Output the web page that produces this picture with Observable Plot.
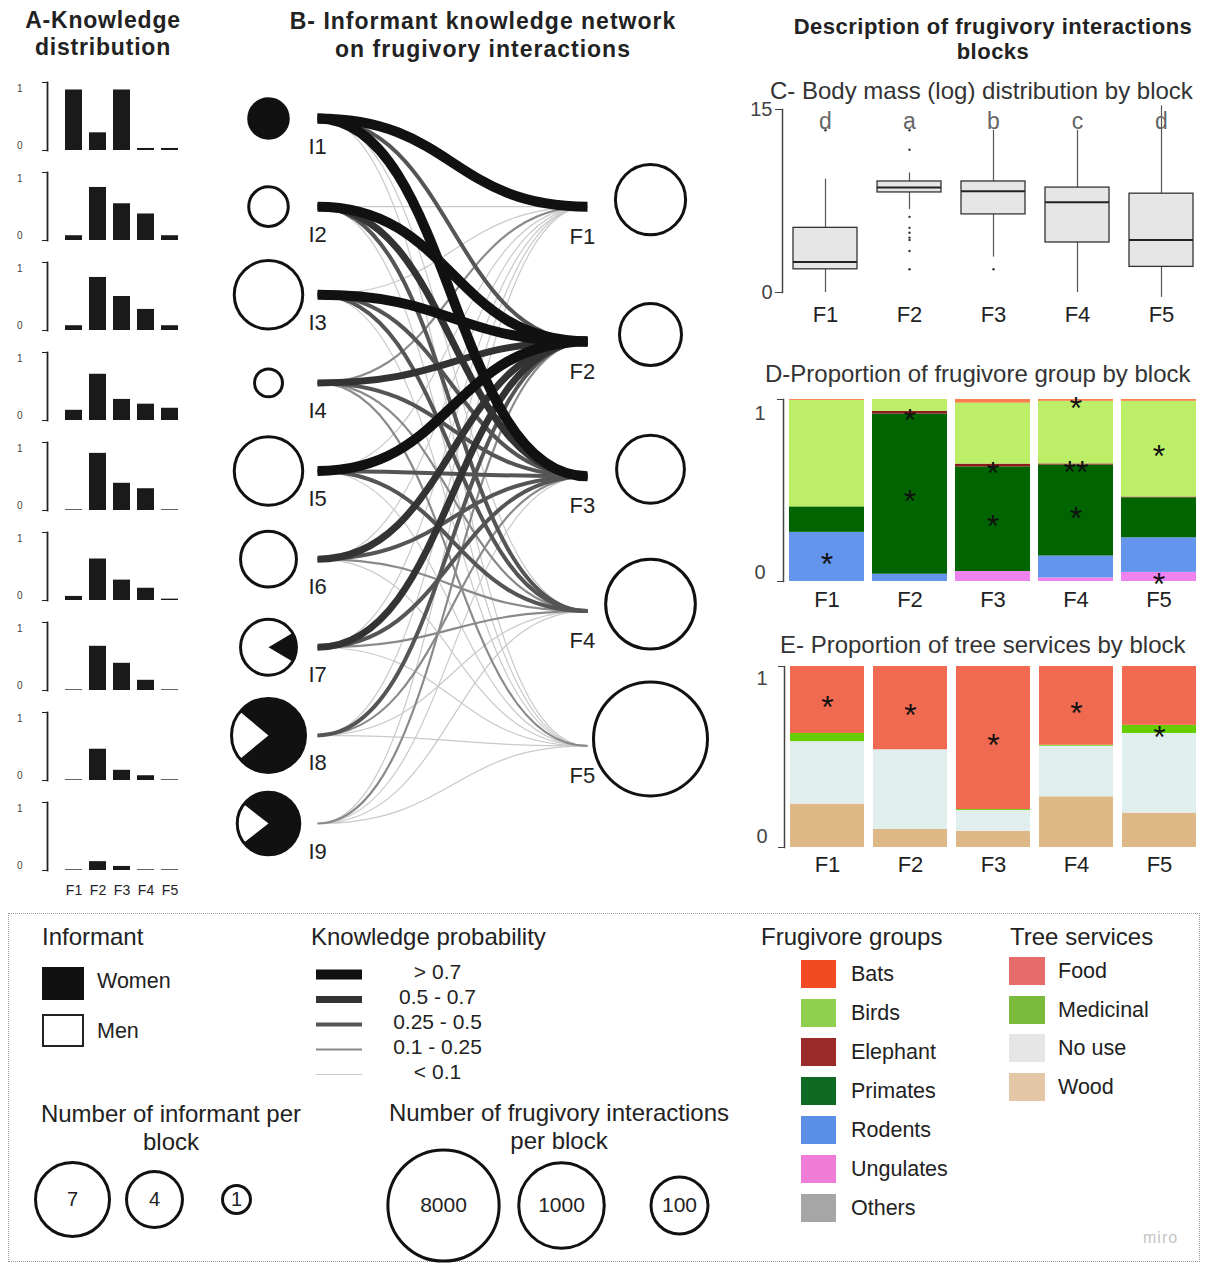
<!DOCTYPE html>
<html><head><meta charset="utf-8">
<script src="https://cdn.jsdelivr.net/npm/d3@7"></script>
<script src="https://cdn.jsdelivr.net/npm/@observablehq/plot@0.6"></script>
<style>
html,body{margin:0;padding:0;background:#fff;}
#root{position:relative;width:1205px;height:1264px;overflow:hidden;background:#fff;font-family:"Liberation Sans",Arial,Helvetica,sans-serif;color:#222;}
#root svg{overflow:visible;}
</style></head><body><div id="root"></div>
<script>
const FONT = '"Liberation Sans", Arial, Helvetica, sans-serif';
// ---------------- data ----------------
const blocks = ["F1", "F2", "F3", "F4", "F5"];
const informants = ["I1", "I2", "I3", "I4", "I5", "I6", "I7", "I8", "I9"];
// knowledge probability of each informant for each block (F1..F5)
const knowI1 = [0.89, 0.26, 0.89, 0.03, 0.03];
const knowI2 = [0.07, 0.78, 0.54, 0.39, 0.07];
const knowI3 = [0.07, 0.78, 0.50, 0.31, 0.07];
const knowI4 = [0.15, 0.68, 0.31, 0.24, 0.18];
const knowI5 = [0.01, 0.84, 0.40, 0.32, 0.01];
const knowI6 = [0.06, 0.61, 0.30, 0.18, 0.02];
const knowI7 = [0.01, 0.65, 0.40, 0.15, 0.01];
const knowI8 = [0.01, 0.46, 0.15, 0.07, 0.01];
const knowI9 = [0.01, 0.13, 0.06, 0.01, 0.01];
const knowledge = [knowI1, knowI2, knowI3, knowI4, knowI5, knowI6, knowI7, knowI8, knowI9];
const informantCount = [2, 2, 6, 1, 6, 4, 4, 7, 5];
const womenShare = [1, 0, 0, 0, 0, 0, 0.17, 0.78, 0.79];
const blockInteractions = [290, 150, 240, 1400, 10000];

const probLabels = ["> 0.7", "0.5 - 0.7", "0.25 - 0.5", "0.1 - 0.25", "< 0.1"];
const probBreaks = [0.7, 0.5, 0.25, 0.1, -Infinity];

// C - body mass (log) boxplots
const boxLo = [0, 6.8, 2.9, 0, -0.4];
const boxQ1 = [1.9, 8.2, 6.4, 4.1, 2.1];
const boxMed = [2.5, 8.6, 8.3, 7.4, 4.3];
const boxQ3 = [5.3, 9.1, 9.1, 8.6, 8.1];
const boxHi = [9.3, 9.8, 13.3, 13.3, 15.3];
const boxLetters = ["d", "a", "b", "c", "d"];
const outlierBlock = ["F1", "F2", "F2", "F2", "F2", "F2", "F2", "F2", "F2", "F2", "F3"];
const outlierMass = [13.3, 13.3, 11.7, 6.2, 5.3, 4.9, 4.5, 4.3, 3.4, 1.9, 1.9];

// D - frugivore groups (bottom to top)
const frugGroups = ["Ungulates", "Rodents", "Primates", "Elephant", "Birds", "Bats"];
const ungulates = [0.00, 0.00, 0.055, 0.02, 0.05];
const rodents = [0.27, 0.04, 0.00, 0.12, 0.19];
const primates = [0.14, 0.88, 0.575, 0.50, 0.22];
const elephant = [0.00, 0.015, 0.015, 0.006, 0.004];
const birds = [0.585, 0.065, 0.335, 0.344, 0.526];
const bats = [0.005, 0.00, 0.02, 0.01, 0.01];
const frugShares = [ungulates, rodents, primates, elephant, birds, bats];
const frugStars = [["F1", "Rodents", "*"], ["F2", "Elephant", "*"], ["F2", "Primates", "*"], ["F3", "Elephant", "*"], ["F3", "Primates", "*"], ["F4", "Bats", "*"], ["F4", "Elephant", "**"], ["F4", "Primates", "*"], ["F5", "Birds", "*"], ["F5", "Ungulates", "*"]];

// E - tree services (bottom to top)
const services = ["Wood", "No use", "Medicinal", "Food"];
const wood = [0.24, 0.10, 0.09, 0.28, 0.19];
const noUse = [0.345, 0.44, 0.115, 0.28, 0.44];
const medicinal = [0.045, 0.00, 0.005, 0.005, 0.045];
const food = [0.37, 0.46, 0.79, 0.435, 0.325];
const serviceShares = [wood, noUse, medicinal, food];
const serviceStars = [["F1", "Food", "*"], ["F2", "Food", "*"], ["F3", "Food", "*"], ["F4", "Food", "*"], ["F5", "Medicinal", "*"]];

// legends
const informantLegend = ["7", "4", "1"];
const interactionLegend = ["8000", "1000", "100"];
const frugLegend = ["Bats", "Birds", "Elephant", "Primates", "Rodents", "Ungulates", "Others"];
const serviceLegend = ["Food", "Medicinal", "No use", "Wood"];

// ---------------- styles ----------------
const probWidths = [10, 7, 4, 2.2, 1.2];
const probColors = ["#111", "#333", "#555", "#8a8a8a", "#c9c9c9"];
const frugBarColors = ["#ee82ee", "#6495ed", "#006400", "#8b1a1a", "#bcee68", "#fa7f4a"];
const serviceBarColors = ["#deb887", "#e0eeee", "#66cd00", "#ef6a50"];
const frugLegendColors = ["#f24a22", "#8fd14f", "#9b2b2b", "#0f6b23", "#5b8fe6", "#ef7cd6", "#a6a6a6"];
const serviceLegendColors = ["#e66c6c", "#7bbb3b", "#e6e6e6", "#e3c7a6"];
const infR = {type: "sqrt", domain: [0, 7], range: [0, 37]};
const blockR = {type: "log", domain: [1, 10000], range: [0, 57]};
const baseStyle = {fontFamily: FONT, fontSize: "20px", color: "#222", background: "transparent", overflow: "visible"};

// ---------------- helpers ----------------
const root = document.getElementById("root");
function place(node, left, top) {
  const w = document.createElement("div");
  w.style.cssText = `position:absolute;left:${left}px;top:${top}px;`;
  w.appendChild(node); root.appendChild(w); return w;
}
function txt(html, left, top, css) {
  const d = document.createElement("div");
  d.innerHTML = html;
  d.style.cssText = `position:absolute;left:${left}px;top:${top}px;white-space:nowrap;${css || ""}`;
  root.appendChild(d); return d;
}
function level(p) { return probBreaks.findIndex(b => p > b); }
function wedge(share) {
  return {
    draw(ctx, size) {
      const r = Math.sqrt(size / Math.PI);
      if (share >= 1) { ctx.moveTo(r, 0); ctx.arc(0, 0, r, 0, 2 * Math.PI); ctx.closePath(); return; }
      const a = Math.PI * share;
      ctx.moveTo(0, 0); ctx.arc(0, 0, r, -a, a); ctx.closePath();
    }
  };
}

// ---------------- titles ----------------
txt("A-Knowledge<br>distribution", 0, 7, "width:206px;text-align:center;font-weight:bold;font-size:23px;line-height:27px;letter-spacing:0.8px;");
txt("B- Informant knowledge network<br>on frugivory interactions", 283, 7, "width:400px;text-align:center;font-weight:bold;font-size:23px;line-height:28px;letter-spacing:1px;");
txt("Description of frugivory interactions<br>blocks", 793, 14, "width:400px;text-align:center;font-weight:bold;font-size:22px;line-height:25px;letter-spacing:0.5px;");
txt("C- Body mass (log) distribution by block", 770, 77, "font-size:24px;line-height:28px;color:#333;");
txt("D-Proportion of frugivore group by block", 765, 360, "font-size:24px;line-height:28px;color:#333;");
txt("E- Proportion of tree services by block", 780, 631, "font-size:24px;line-height:28px;color:#333;");

// ---------------- A ----------------
const aData = informants.flatMap((inf, i) => blocks.map((b, j) => ({informant: inf, block: b, value: knowledge[i][j]})));
place(Plot.plot({
  width: 206, height: 892, marginTop: 19, marginBottom: 40, marginLeft: 47, marginRight: 10,
  style: baseStyle,
  x: {domain: blocks, paddingInner: 0.3, paddingOuter: 0.75, label: null},
  y: {domain: [0, 1], label: null},
  fy: {domain: informants, paddingInner: 0.245, paddingOuter: 0.245, axis: null, label: null},
  marks: [
    Plot.frame({anchor: "left", stroke: "#222", strokeWidth: 1.8}),
    Plot.axisY({ticks: [0, 1], tickSize: 5, tickFormat: () => "", label: null, stroke: "#222"}),
    Plot.text([1], {y: d => d, text: d => String(d), frameAnchor: "left", textAnchor: "end", dx: -25, dy: 6, fontSize: 10, fill: "#444"}),
    Plot.text([0], {y: d => d, text: d => String(d), frameAnchor: "left", textAnchor: "end", dx: -25, dy: -5, fontSize: 10, fill: "#444"}),
    Plot.axisX({tickSize: 0, tickPadding: 15, fontSize: 14, label: null}),
    Plot.barY(aData, {x: "block", y: "value", fy: "informant", fill: "#1a1a1a"})
  ]
}), 0, 40);

// ---------------- B ----------------
const blockSlot = j => 1 + 1.53 * j;
const infData = informants.map((name, i) => ({name, idx: i, count: informantCount[i], women: womenShare[i]}));
const blockData = blocks.map((name, j) => ({name, pos: blockSlot(j), n: blockInteractions[j]}));
const links = informants.flatMap((inf, i) => blocks.map((b, j) => ({i, pos: blockSlot(j), p: knowledge[i][j]})))
  .sort((a, b) => a.p - b.p);
const netDims = {width: 480, height: 830, marginLeft: 87, marginRight: 123, marginTop: 48, marginBottom: 77};
place(Plot.plot({
  ...netDims, style: baseStyle,
  x: {domain: [0, 1], axis: null}, y: {domain: [0, 8], reverse: true, axis: null},
  r: infR,
  marks: [
    Plot.link(links, {x1: 0, x2: 1, y1: "i", y2: "pos", curve: "bump-x",
      stroke: d => probColors[level(d.p)], strokeWidth: d => probWidths[level(d.p)]}),
    Plot.dot(infData, {x: 0, y: "idx", r: "count", dx: -49, fill: "white", stroke: "none"}),
    ...infData.filter(d => d.women > 0).map(d => Plot.dot([d], {x: 0, y: "idx", r: "count", dx: -49, fill: "#111", stroke: "none", symbol: wedge(d.women)})),
    Plot.dot(infData, {x: 0, y: "idx", r: "count", dx: -49, fill: "none", stroke: "#111", strokeWidth: 3}),
    Plot.text(infData, {x: 0, y: "idx", text: "name", dx: -9, dy: 28, textAnchor: "start", fontSize: 22}),
    Plot.text(blockData, {x: 1, y: "pos", text: "name", dx: -18, dy: 30, textAnchor: "start", fontSize: 22})
  ]
}), 230, 70);
place(Plot.plot({
  ...netDims, style: baseStyle,
  x: {domain: [0, 1], axis: null}, y: {domain: [0, 8], reverse: true, axis: null},
  r: blockR,
  marks: [
    Plot.dot(blockData, {x: 1, y: "pos", r: "n", dx: 63, dy: -7, fill: "none", stroke: "#111", strokeWidth: 3})
  ]
}), 230, 70);

// ---------------- C ----------------
const boxData = blocks.map((b, j) => ({block: b, lo: boxLo[j], q1: boxQ1[j], med: boxMed[j], q3: boxQ3[j], hi: boxHi[j], letter: boxLetters[j]}));
const outliers = outlierBlock.map((b, k) => ({block: b, mass: outlierMass[k]}));
place(Plot.plot({
  width: 465, height: 237, marginLeft: 42, marginRight: 1, marginTop: 14, marginBottom: 40,
  style: baseStyle,
  x: {domain: blocks, paddingInner: 0.24, paddingOuter: 0.12, label: null},
  y: {domain: [0, 15], label: null},
  marks: [
    Plot.frame({anchor: "left", stroke: "#444", strokeWidth: 1.5}),
    Plot.axisY({ticks: [0, 15], tickSize: 7, tickPadding: 3, fontSize: 20, label: null, stroke: "#444", fill: "#444"}),
    Plot.axisX({tickSize: 0, tickPadding: 14, fontSize: 22, label: null}),
    Plot.ruleX(boxData, {x: "block", y1: "lo", y2: "q1", stroke: "#555", strokeWidth: 1.2}),
    Plot.ruleX(boxData, {x: "block", y1: "q3", y2: "hi", stroke: "#555", strokeWidth: 1.2}),
    Plot.barY(boxData, {x: "block", y1: "q1", y2: "q3", fill: "#e6e6e6", stroke: "#333", strokeWidth: 1.3}),
    Plot.tickY(boxData, {x: "block", y: "med", stroke: "#222", strokeWidth: 2}),
    Plot.dot(outliers, {x: "block", y: "mass", r: 1.2, fill: "#333", stroke: "none"}),
    Plot.text(boxData, {x: "block", text: "letter", frameAnchor: "top", dy: 3, fontSize: 23, fill: "#666"})
  ]
}), 740, 95);

// ---------------- D ----------------
const dData = frugGroups.flatMap((g, k) => blocks.map((b, j) => {
  const s = frugStars.find(t => t[0] === b && t[1] === g);
  return {block: b, group: g, value: frugShares[k][j], star: s ? s[2] : ""};
}));
place(Plot.plot({
  width: 465, height: 221, marginLeft: 43, marginRight: 2, marginTop: 9, marginBottom: 30,
  style: baseStyle,
  x: {domain: blocks, paddingInner: 0.095, paddingOuter: 0.05, label: null},
  y: {domain: [0, 1], label: null},
  color: {domain: frugGroups, range: frugBarColors},
  marks: [
    Plot.barY(dData, {x: "block", y: "value", fill: "group"}),
    Plot.text(dData, Plot.stackY({x: "block", y: "value", z: "group", text: "star", fontSize: 32, dy: 8, fill: "#111"})),
    Plot.frame({anchor: "left", stroke: "#444", strokeWidth: 1.5}),
    Plot.axisY({ticks: [0, 1], tickSize: 6, tickFormat: () => "", label: null, stroke: "#444"}),
    Plot.text([1], {y: d => d, text: d => String(d), frameAnchor: "left", textAnchor: "end", dx: -18, dy: 14, fontSize: 20, fill: "#444"}),
    Plot.text([0], {y: d => d, text: d => String(d), frameAnchor: "left", textAnchor: "end", dx: -18, dy: -9, fontSize: 20, fill: "#444"}),
    Plot.axisX({tickSize: 0, tickPadding: 10, fontSize: 22, label: null})
  ]
}), 740, 390);

// ---------------- E ----------------
const eData = services.flatMap((s, k) => blocks.map((b, j) => {
  const st = serviceStars.find(t => t[0] === b && t[1] === s);
  return {block: b, service: s, value: serviceShares[k][j], star: st ? st[2] : ""};
}));
place(Plot.plot({
  width: 465, height: 222, marginLeft: 44, marginRight: 3, marginTop: 11, marginBottom: 30,
  style: baseStyle,
  x: {domain: blocks, paddingInner: 0.11, paddingOuter: 0.05, label: null},
  y: {domain: [0, 1], label: null},
  color: {domain: services, range: serviceBarColors},
  marks: [
    Plot.barY(eData, {x: "block", y: "value", fill: "service"}),
    Plot.text(eData, Plot.stackY({x: "block", y: "value", z: "service", text: "star", fontSize: 32, dy: 8, fill: "#111"})),
    Plot.frame({anchor: "left", stroke: "#444", strokeWidth: 1.5}),
    Plot.axisY({ticks: [0, 1], tickSize: 6, tickFormat: () => "", label: null, stroke: "#444"}),
    Plot.text([1], {y: d => d, text: d => String(d), frameAnchor: "left", textAnchor: "end", dx: -17, dy: 12, fontSize: 20, fill: "#444"}),
    Plot.text([0], {y: d => d, text: d => String(d), frameAnchor: "left", textAnchor: "end", dx: -17, dy: -11, fontSize: 20, fill: "#444"}),
    Plot.axisX({tickSize: 0, tickPadding: 9, fontSize: 22, label: null})
  ]
}), 740, 655);

// ---------------- legend ----------------
txt("", 8, 913, "width:1192px;height:349px;box-sizing:border-box;border:1.5px dotted #9a9a9a;");
const LT = "font-size:24px;line-height:28px;color:#222;";
const LI = "font-size:21.5px;line-height:26px;color:#222;";
txt("Informant", 42, 923, LT);
txt("", 42, 967, "width:42px;height:33px;background:#111;");
txt("Women", 97, 968, LI);
txt("", 42, 1014, "width:42px;height:33px;box-sizing:border-box;border:2px solid #222;background:#fff;");
txt("Men", 97, 1018, LI);
txt("Knowledge probability", 311, 923, LT);
place(Plot.plot({
  width: 200, height: 135, marginLeft: 16, marginRight: 138, marginTop: 17, marginBottom: 15,
  style: baseStyle,
  x: {domain: [0, 1], axis: null}, y: {type: "point", domain: probLabels, padding: 0, axis: null},
  marks: [
    Plot.ruleY(probLabels, {y: d => d, x1: 0, x2: 1, stroke: (d, i) => probColors[i], strokeWidth: (d, i) => probWidths[i]}),
    Plot.text(probLabels, {y: d => d, x: 1, dx: 75, dy: -2, text: d => d, fontSize: 21})
  ]
}), 300, 955);
txt("Number of informant per<br>block", 21, 1100, "width:300px;text-align:center;" + LT);
place(Plot.plot({
  width: 300, height: 98, marginLeft: 71, marginRight: 64, marginTop: 0, marginBottom: 0,
  style: baseStyle,
  x: {type: "point", domain: informantLegend, padding: 0, axis: null},
  r: infR,
  marks: [
    Plot.dot(informantLegend, {x: d => d, r: d => +d, frameAnchor: "middle", fill: "none", stroke: "#111", strokeWidth: 3}),
    Plot.text(informantLegend, {x: d => d, text: d => d, frameAnchor: "middle", fontSize: 20})
  ]
}), 0, 1150);
txt("Number of frugivory interactions<br>per block", 359, 1099, "width:400px;text-align:center;" + LT);
place(Plot.plot({
  width: 330, height: 130, marginLeft: 63, marginRight: 31, marginTop: 0, marginBottom: 0,
  style: baseStyle,
  x: {type: "point", domain: interactionLegend, padding: 0, axis: null},
  r: blockR,
  marks: [
    Plot.dot(interactionLegend, {x: d => d, r: d => +d, frameAnchor: "middle", fill: "none", stroke: "#111", strokeWidth: 3}),
    Plot.text(interactionLegend, {x: d => d, text: d => d, frameAnchor: "middle", fontSize: 21})
  ]
}), 380, 1140);
txt("Frugivore groups", 761, 923, LT);
frugLegend.forEach((g, k) => {
  const top = 960 + k * 39;
  txt("", 801, top, `width:35px;height:28px;background:${frugLegendColors[k]};`);
  txt(g, 851, top + 1, LI);
});
txt("Tree services", 1010, 923, LT);
serviceLegend.forEach((s, k) => {
  const top = 957 + k * 38.7;
  txt("", 1009, top, `width:36px;height:28px;background:${serviceLegendColors[k]};`);
  txt(s, 1058, top + 1, LI);
});
txt("miro", 1143, 1228, "font-size:16px;line-height:20px;color:#c4c4c4;letter-spacing:1px;");
</script></body></html>
